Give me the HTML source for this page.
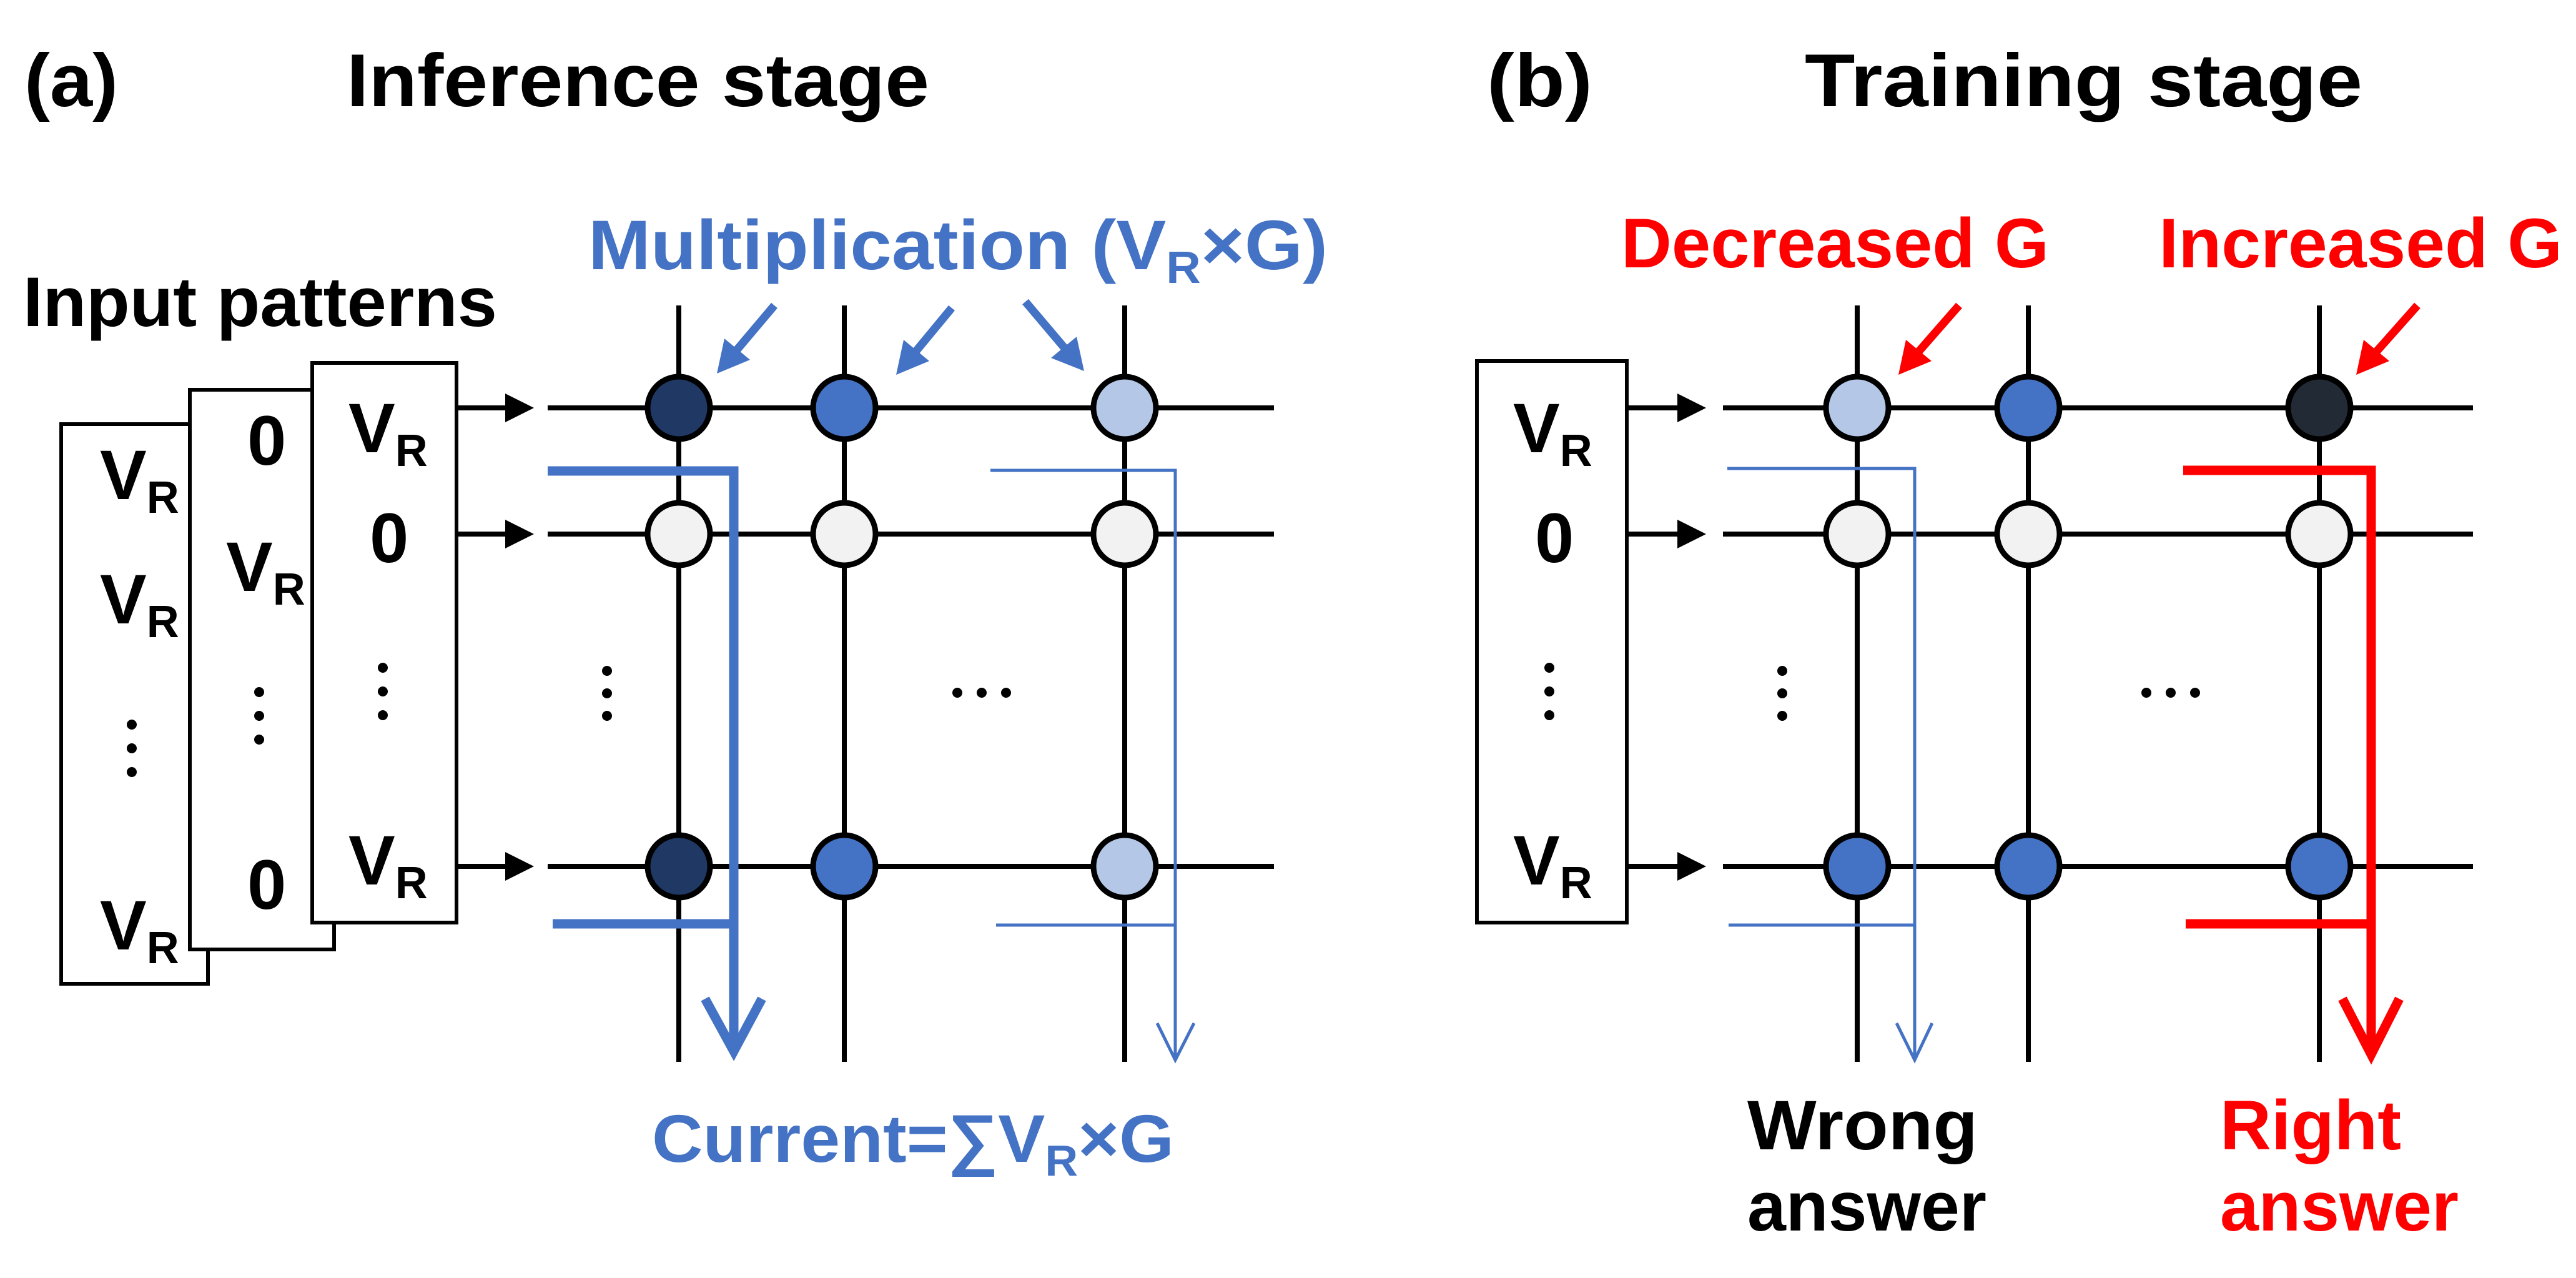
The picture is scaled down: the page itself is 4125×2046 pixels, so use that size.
<!DOCTYPE html>
<html><head><meta charset="utf-8"><style>html,body{margin:0;padding:0;background:#fff}svg{display:block}</style></head>
<body>
<svg width="4125" height="2046" viewBox="0 0 4125 2046" xmlns="http://www.w3.org/2000/svg" font-family="Liberation Sans, sans-serif" font-weight="bold">
<rect width="4125" height="2046" fill="#fff"/>
<!-- Titles -->
<text x="39" y="170" font-size="120" textLength="150" lengthAdjust="spacingAndGlyphs">(a)</text>
<text x="555" y="170" font-size="120" textLength="933" lengthAdjust="spacingAndGlyphs">Inference stage</text>
<text x="2381" y="170" font-size="120" textLength="169" lengthAdjust="spacingAndGlyphs">(b)</text>
<text x="2890" y="170" font-size="120" textLength="893" lengthAdjust="spacingAndGlyphs">Training stage</text>

<!-- ===== Panel A ===== -->
<text x="37" y="522" font-size="112" textLength="759" lengthAdjust="spacingAndGlyphs">Input patterns</text>
<text x="942" y="431" font-size="112" fill="#4472c4" textLength="1184" lengthAdjust="spacingAndGlyphs">Multiplication (V<tspan font-size="72" dy="22">R</tspan><tspan dy="-22">×G)</tspan></text>

<g stroke="#000" stroke-width="6" fill="#fff">
<rect x="98" y="679" width="235" height="896"/>
<rect x="304" y="624" width="231" height="896"/>
<rect x="500" y="581" width="231" height="896"/>
</g>
<g font-size="112">
<text x="160" y="799">V<tspan font-size="72" dy="22">R</tspan></text>
<text x="160" y="998">V<tspan font-size="72" dy="22">R</tspan></text>
<text x="160" y="1520">V<tspan font-size="72" dy="22">R</tspan></text>
<text x="396" y="744">0</text>
<text x="362" y="946">V<tspan font-size="72" dy="22">R</tspan></text>
<text x="396" y="1455">0</text>
<text x="558" y="724">V<tspan font-size="72" dy="22">R</tspan></text>
<text x="592" y="900">0</text>
<text x="558" y="1416">V<tspan font-size="72" dy="22">R</tspan></text>
</g>
<g fill="#000">
<circle cx="211" cy="1160" r="8"/><circle cx="211" cy="1198" r="8"/><circle cx="211" cy="1236" r="8"/>
<circle cx="415" cy="1108" r="8"/><circle cx="415" cy="1146" r="8"/><circle cx="415" cy="1184" r="8"/>
<circle cx="613" cy="1069" r="8"/><circle cx="613" cy="1107" r="8"/><circle cx="613" cy="1145" r="8"/>
<circle cx="972" cy="1074" r="8"/><circle cx="972" cy="1110" r="8"/><circle cx="972" cy="1146" r="8"/>
<circle cx="1533" cy="1109" r="8"/><circle cx="1572" cy="1109" r="8"/><circle cx="1611" cy="1109" r="8"/>
</g>
<g stroke="#000" stroke-width="8">
<line x1="731" y1="653" x2="820" y2="653"/>
<line x1="731" y1="855" x2="820" y2="855"/>
<line x1="731" y1="1387" x2="820" y2="1387"/>
<line x1="877" y1="653" x2="2040" y2="653"/>
<line x1="877" y1="855" x2="2040" y2="855"/>
<line x1="877" y1="1387" x2="2040" y2="1387"/>
<line x1="1087" y1="489" x2="1087" y2="1700"/>
<line x1="1352" y1="489" x2="1352" y2="1700"/>
<line x1="1801" y1="489" x2="1801" y2="1700"/>
</g>
<g fill="#000">
<polygon points="855,653 809,630 809,676"/>
<polygon points="855,855 809,832 809,878"/>
<polygon points="855,1387 809,1364 809,1410"/>
</g>
<g stroke="#000" stroke-width="9">
<circle cx="1087" cy="653" r="50" fill="#1f3864"/>
<circle cx="1352" cy="653" r="50" fill="#4472c4"/>
<circle cx="1801" cy="653" r="50" fill="#b4c7e7"/>
<circle cx="1087" cy="855" r="50" fill="#f2f2f2"/>
<circle cx="1352" cy="855" r="50" fill="#f2f2f2"/>
<circle cx="1801" cy="855" r="50" fill="#f2f2f2"/>
<circle cx="1087" cy="1387" r="50" fill="#1f3864"/>
<circle cx="1352" cy="1387" r="50" fill="#4472c4"/>
<circle cx="1801" cy="1387" r="50" fill="#b4c7e7"/>
</g>
<!-- multiplication arrows -->
<g stroke="#4472c4" stroke-width="13" fill="#4472c4">
<line x1="1240" y1="489" x2="1175" y2="566"/>
<line x1="1524" y1="493" x2="1462" y2="568"/>
<line x1="1642" y1="483" x2="1708" y2="561"/>
</g>
<g fill="#4472c4">
<polygon points="1148,598 1160,542 1201,576"/>
<polygon points="1435,600 1447,544 1488,578"/>
<polygon points="1736,594 1683,573 1724,539"/>
</g>
<!-- current paths -->
<g fill="none" stroke="#4472c4" stroke-linejoin="miter">
<polyline points="877,754 1175,754 1175,1675" stroke-width="15"/>
<line x1="885" y1="1479" x2="1175" y2="1479" stroke-width="15"/>
<polyline points="1129,1599 1175,1683 1220,1599" stroke-width="15"/>
<polyline points="1586,753 1882,753 1882,1695" stroke-width="5"/>
<line x1="1595" y1="1481" x2="1882" y2="1481" stroke-width="5"/>
<polyline points="1853,1638 1882,1697 1912,1638" stroke-width="5"/>
</g>
<text x="1044" y="1860" font-size="108" fill="#4472c4" textLength="836" lengthAdjust="spacingAndGlyphs">Current=∑V<tspan font-size="70" dy="22">R</tspan><tspan dy="-22">×G</tspan></text>

<!-- ===== Panel B ===== -->
<text x="2596" y="428" font-size="112" fill="#ff0000" textLength="685" lengthAdjust="spacingAndGlyphs">Decreased G</text>
<text x="3457" y="428" font-size="112" fill="#ff0000" textLength="646" lengthAdjust="spacingAndGlyphs">Increased G</text>
<rect x="2365" y="578" width="240" height="899" stroke="#000" stroke-width="6" fill="#fff"/>
<g font-size="112">
<text x="2423" y="724">V<tspan font-size="72" dy="22">R</tspan></text>
<text x="2458" y="900">0</text>
<text x="2423" y="1416">V<tspan font-size="72" dy="22">R</tspan></text>
</g>
<g fill="#000">
<circle cx="2481" cy="1069" r="8"/><circle cx="2481" cy="1107" r="8"/><circle cx="2481" cy="1145" r="8"/>
<circle cx="2854" cy="1074" r="8"/><circle cx="2854" cy="1110" r="8"/><circle cx="2854" cy="1146" r="8"/>
<circle cx="3437" cy="1109" r="8"/><circle cx="3476" cy="1109" r="8"/><circle cx="3515" cy="1109" r="8"/>
</g>
<g stroke="#000" stroke-width="8">
<line x1="2605" y1="653" x2="2695" y2="653"/>
<line x1="2605" y1="855" x2="2695" y2="855"/>
<line x1="2605" y1="1387" x2="2695" y2="1387"/>
<line x1="2759" y1="653" x2="3960" y2="653"/>
<line x1="2759" y1="855" x2="3960" y2="855"/>
<line x1="2759" y1="1387" x2="3960" y2="1387"/>
<line x1="2974" y1="489" x2="2974" y2="1700"/>
<line x1="3248" y1="489" x2="3248" y2="1700"/>
<line x1="3714" y1="489" x2="3714" y2="1700"/>
</g>
<g fill="#000">
<polygon points="2732,653 2686,630 2686,676"/>
<polygon points="2732,855 2686,832 2686,878"/>
<polygon points="2732,1387 2686,1364 2686,1410"/>
</g>
<g stroke="#000" stroke-width="9">
<circle cx="2974" cy="653" r="50" fill="#b4c7e7"/>
<circle cx="3248" cy="653" r="50" fill="#4472c4"/>
<circle cx="3714" cy="653" r="50" fill="#222a35"/>
<circle cx="2974" cy="855" r="50" fill="#f2f2f2"/>
<circle cx="3248" cy="855" r="50" fill="#f2f2f2"/>
<circle cx="3714" cy="855" r="50" fill="#f2f2f2"/>
<circle cx="2974" cy="1387" r="50" fill="#4472c4"/>
<circle cx="3248" cy="1387" r="50" fill="#4472c4"/>
<circle cx="3714" cy="1387" r="50" fill="#4472c4"/>
</g>
<g stroke="#ff0000" stroke-width="13">
<line x1="3137" y1="489" x2="3067" y2="569"/>
<line x1="3871" y1="489" x2="3800" y2="569"/>
</g>
<g fill="#ff0000">
<polygon points="3040,600 3052,544 3093,578"/>
<polygon points="3773,600 3785,544 3826,578"/>
</g>
<g fill="none" stroke-linejoin="miter">
<polyline points="2766,750 3066,750 3066,1695" stroke="#4472c4" stroke-width="5"/>
<line x1="2768" y1="1481" x2="3066" y2="1481" stroke="#4472c4" stroke-width="5"/>
<polyline points="3037,1638 3066,1697 3094,1638" stroke="#4472c4" stroke-width="5"/>
<polyline points="3496,753 3797,753 3797,1680" stroke="#ff0000" stroke-width="15"/>
<line x1="3500" y1="1479" x2="3797" y2="1479" stroke="#ff0000" stroke-width="15"/>
<polyline points="3751,1599 3797,1688 3842,1599" stroke="#ff0000" stroke-width="15"/>
</g>
<text x="2798" y="1840" font-size="112" textLength="369" lengthAdjust="spacingAndGlyphs">Wrong</text>
<text x="2798" y="1970" font-size="112" textLength="383" lengthAdjust="spacingAndGlyphs">answer</text>
<text x="3555" y="1840" font-size="112" fill="#ff0000" textLength="290" lengthAdjust="spacingAndGlyphs">Right</text>
<text x="3555" y="1970" font-size="112" fill="#ff0000" textLength="382" lengthAdjust="spacingAndGlyphs">answer</text>
</svg>
</body></html>
